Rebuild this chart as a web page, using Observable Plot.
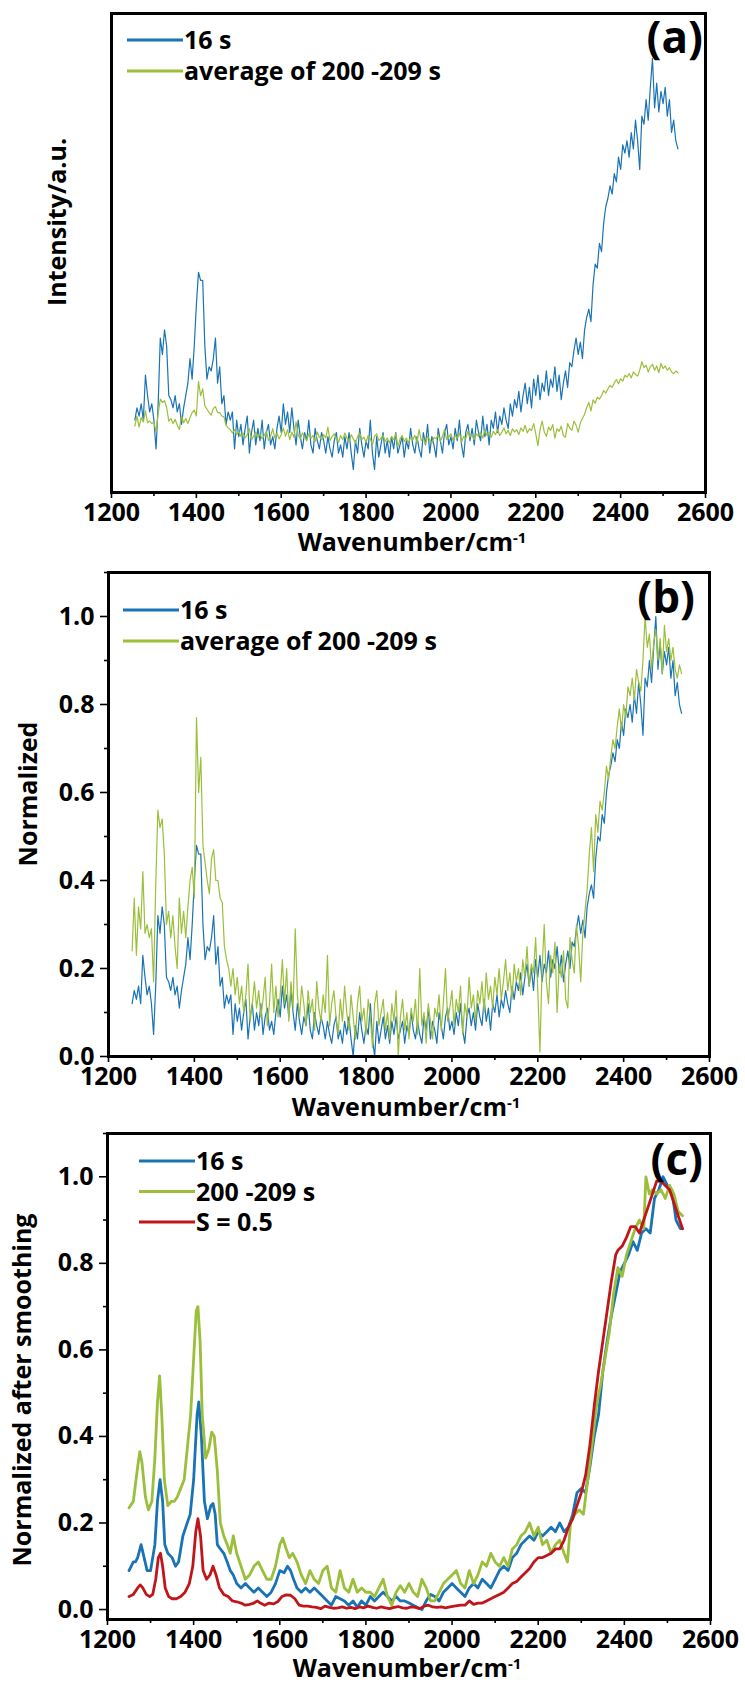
<!DOCTYPE html>
<html><head><meta charset="utf-8">
<script src="https://cdn.jsdelivr.net/npm/d3@7"></script>
<script src="https://cdn.jsdelivr.net/npm/@observablehq/plot@0.6"></script>
<style>
body{margin:0;background:#fff;}
#chart{width:745px;}
#chart svg{display:block;overflow:visible;}
</style></head><body><div id="chart"></div>
<script>
// Raman wavenumber grid (cm-1) of the measured spectra
const wavenumber = [
1255,1260,1265,1270,1275,1280,1285,1290,1295,1300,1305,1310,1315,1320,1325,1330,1335,1340,1345,1350,
1355,1360,1365,1370,1375,1380,1385,1390,1395,1400,1405,1410,1415,1420,1425,1430,1435,1440,1445,1450,
1455,1460,1465,1470,1475,1480,1485,1490,1495,1500,1505,1510,1515,1520,1525,1530,1535,1540,1545,1550,
1555,1560,1565,1570,1575,1580,1585,1590,1595,1600,1605,1610,1615,1620,1625,1630,1635,1640,1645,1650,
1655,1660,1665,1670,1675,1680,1685,1690,1695,1700,1705,1710,1715,1720,1725,1730,1735,1740,1745,1750,
1755,1760,1765,1770,1775,1780,1785,1790,1795,1800,1805,1810,1815,1820,1825,1830,1835,1840,1845,1850,
1855,1860,1865,1870,1875,1880,1885,1890,1895,1900,1905,1910,1915,1920,1925,1930,1935,1940,1945,1950,
1955,1960,1965,1970,1975,1980,1985,1990,1995,2000,2005,2010,2015,2020,2025,2030,2035,2040,2045,2050,
2055,2060,2065,2070,2075,2080,2085,2090,2095,2100,2105,2110,2115,2120,2125,2130,2135,2140,2145,2150,
2155,2160,2165,2170,2175,2180,2185,2190,2195,2200,2205,2210,2215,2220,2225,2230,2235,2240,2245,2250,
2255,2260,2265,2270,2275,2280,2285,2290,2295,2300,2305,2310,2315,2320,2325,2330,2335,2340,2345,2350,
2355,2360,2365,2370,2375,2380,2385,2390,2395,2400,2405,2410,2415,2420,2425,2430,2435,2440,2445,2450,
2455,2460,2465,2470,2475,2480,2485,2490,2495,2500,2505,2510,2515,2520,2525,2530,2535];

// 16 s spectrum, normalized (panel b)
const norm16 = [
.12,.15,.13,.16,.12,.23,.18,.14,.16,.12,.05,.16,.32,.28,.34,.30,.18,.17,.15,.18,
.14,.16,.11,.15,.18,.21,.27,.22,.30,.40,.48,.46,.46,.30,.22,.25,.24,.27,.32,.21,
.25,.16,.18,.11,.14,.12,.14,.05,.12,.08,.11,.06,.10,.13,.04,.09,.12,.06,.10,.07,
.12,.05,.09,.11,.06,.08,.05,.10,.13,.09,.16,.11,.14,.09,.15,.10,.06,.12,.08,.05,
.09,.07,.12,.06,.04,.10,.07,.05,.09,.07,.04,.08,.05,.03,.07,.09,.04,.06,.03,.08,
.05,.09,.04,.00,.07,.04,.10,.06,.03,.07,.05,.12,.04,.00,.08,.03,.06,.09,.04,.07,
.03,.08,.05,.09,.04,.06,.08,.03,.07,.05,.10,.06,.04,.08,.05,.03,.09,.06,.11,.04,
.08,.06,.03,.10,.07,.04,.09,.11,.06,.08,.05,.10,.07,.12,.06,.03,.09,.11,.07,.10,
.06,.12,.09,.07,.13,.08,.11,.06,.12,.10,.14,.09,.13,.11,.15,.12,.10,.16,.13,.17,
.15,.19,.14,.18,.21,.16,.20,.15,.22,.18,.23,.17,.21,.19,.24,.18,.22,.20,.25,.19,
.23,.17,.21,.24,.20,.26,.25,.29,.32,.28,.31,.27,.34,.37,.39,.36,.45,.50,.49,.55,
.53,.60,.64,.66,.69,.67,.72,.70,.76,.73,.79,.77,.80,.76,.82,.78,.85,.80,.73,.86,
.84,.90,.85,.93,1.00,.88,.94,.87,.92,.89,.93,.86,.90,.82,.85,.80,.78];

// average of 200-209 s, normalized (panel b)
const norm200 = [
.24,.36,.23,.34,.29,.42,.28,.30,.27,.29,.17,.39,.56,.52,.54,.46,.30,.33,.27,.32,
.25,.20,.36,.28,.33,.27,.34,.40,.43,.36,.77,.60,.68,.48,.44,.40,.37,.45,.47,.40,
.40,.36,.35,.25,.22,.20,.16,.20,.14,.18,.12,.16,.10,.14,.21,.08,.12,.17,.11,.15,
.09,.13,.18,.07,.12,.21,.10,.16,.09,.14,.22,.12,.20,.08,.17,.11,.29,.14,.09,.16,
.12,.07,.15,.10,.13,.06,.17,.11,.08,.14,.10,.23,.07,.12,.15,.09,.05,.13,.08,.16,
.10,.06,.14,.09,.04,.12,.16,.08,.11,.05,.13,.09,.02,.12,.15,.07,.10,.13,.06,.10,
.04,.12,.08,.15,.00,.09,.13,.06,.10,.04,.11,.08,.13,.05,.20,.07,.10,.03,.12,.08,
.04,.11,.09,.14,.06,.12,.20,.08,.11,.15,.07,.13,.10,.16,.05,.12,.09,.18,.11,.14,
.08,.15,.12,.17,.10,.19,.13,.16,.11,.18,.14,.20,.13,.17,.22,.15,.19,.13,.21,.17,
.20,.14,.22,.18,.25,.16,.21,.19,.27,.15,.01,.20,.30,.17,.12,.23,.19,.26,.10,.21,
.18,.24,.13,.11,.27,.22,.19,.30,.25,.17,.28,.33,.38,.46,.52,.42,.55,.51,.58,.56,
.60,.66,.63,.68,.72,.70,.75,.79,.74,.80,.77,.84,.82,.86,.81,.88,.85,.83,.90,1.00,
.93,.96,.88,.94,.97,.90,.95,.87,.98,.92,.95,.90,.93,.88,.86,.89,.87];

// raw intensity (a.u.) of each spectrum at its minimum and maximum
const intensityRange16 = [0.048, 0.906];
const intensityRange200 = [0.096, 0.273];

// smoothed spectra, panel (c): [wavenumber, normalized value]
const smooth16 = [[1250,.09],[1260,.11],[1265,.11],[1270,.12],[1278,.15],[1285,.12],[1292,.09],[1300,.09],[1310,.15],[1316,.25],[1322,.30],[1328,.25],[1333,.15],[1340,.13],[1350,.12],[1358,.10],[1365,.11],[1375,.17],[1385,.20],[1392,.22],[1400,.30],[1408,.45],[1412,.48],[1418,.40],[1425,.25],[1432,.21],[1440,.24],[1445,.245],[1450,.22],[1455,.15],[1462,.14],[1470,.13],[1478,.11],[1485,.09],[1492,.08],[1500,.06],[1510,.05],[1520,.06],[1530,.05],[1540,.04],[1550,.05],[1560,.04],[1570,.03],[1580,.04],[1590,.06],[1600,.09],[1610,.085],[1618,.10],[1625,.09],[1632,.07],[1640,.05],[1650,.04],[1660,.05],[1670,.04],[1680,.05],[1690,.04],[1700,.03],[1710,.02],[1720,.01],[1730,.03],[1740,.025],[1750,.02],[1760,.01],[1770,.02],[1780,.005],[1790,.02],[1800,.01],[1810,.03],[1820,.02],[1830,.03],[1840,.04],[1850,.03],[1860,.02],[1870,.03],[1880,.02],[1890,.02],[1900,.015],[1910,.01],[1920,.005],[1930,.0],[1940,.02],[1950,.035],[1960,.03],[1970,.02],[1980,.04],[1990,.05],[2000,.06],[2010,.05],[2020,.04],[2030,.03],[2040,.05],[2050,.06],[2060,.05],[2070,.07],[2080,.06],[2090,.05],[2100,.07],[2110,.09],[2120,.10],[2130,.09],[2140,.12],[2150,.13],[2160,.15],[2170,.16],[2180,.17],[2190,.16],[2200,.18],[2210,.17],[2220,.18],[2230,.19],[2240,.18],[2250,.20],[2260,.18],[2270,.19],[2280,.22],[2290,.27],[2300,.28],[2310,.27],[2320,.33],[2330,.40],[2340,.45],[2350,.55],[2360,.62],[2370,.68],[2380,.73],[2390,.78],[2400,.80],[2410,.82],[2420,.85],[2430,.83],[2440,.87],[2450,.88],[2460,.87],[2470,.95],[2480,.97],[2490,1.0],[2500,.98],[2510,.97],[2520,.90],[2530,.88],[2535,.88]];

const smooth200 = [[1250,.235],[1260,.25],[1270,.33],[1275,.365],[1280,.34],[1288,.26],[1295,.23],[1303,.25],[1310,.35],[1316,.48],[1321,.54],[1326,.45],[1332,.30],[1340,.24],[1348,.25],[1355,.25],[1362,.26],[1370,.28],[1378,.30],[1386,.38],[1393,.45],[1400,.58],[1406,.69],[1410,.70],[1415,.62],[1420,.45],[1428,.35],[1435,.37],[1442,.41],[1448,.40],[1455,.32],[1462,.20],[1470,.17],[1478,.15],[1485,.13],[1492,.17],[1500,.13],[1510,.10],[1520,.07],[1530,.08],[1540,.10],[1550,.11],[1560,.09],[1570,.07],[1580,.07],[1590,.10],[1600,.15],[1607,.165],[1615,.14],[1622,.12],[1630,.13],[1640,.11],[1650,.08],[1660,.06],[1670,.09],[1680,.07],[1690,.06],[1700,.09],[1710,.10],[1720,.05],[1730,.04],[1740,.09],[1750,.05],[1760,.04],[1770,.07],[1780,.04],[1790,.05],[1800,.04],[1810,.04],[1820,.03],[1830,.05],[1840,.07],[1850,.03],[1860,.01],[1870,.04],[1880,.055],[1890,.04],[1900,.06],[1910,.04],[1920,.03],[1930,.07],[1940,.05],[1950,.02],[1960,.02],[1970,.04],[1980,.06],[1990,.07],[2000,.08],[2010,.09],[2020,.06],[2030,.05],[2040,.09],[2050,.06],[2060,.08],[2070,.11],[2080,.10],[2090,.13],[2100,.11],[2110,.10],[2120,.12],[2130,.10],[2140,.14],[2150,.15],[2160,.17],[2170,.18],[2180,.20],[2190,.17],[2200,.19],[2210,.15],[2220,.16],[2230,.13],[2240,.15],[2250,.16],[2260,.13],[2268,.11],[2275,.20],[2285,.22],[2295,.23],[2305,.22],[2315,.30],[2325,.38],[2335,.47],[2345,.52],[2355,.58],[2365,.64],[2375,.73],[2385,.79],[2395,.77],[2405,.82],[2415,.85],[2425,.88],[2435,.90],[2445,.88],[2450,1.0],[2458,.96],[2465,.97],[2475,.96],[2485,.97],[2495,.95],[2505,.98],[2515,.96],[2525,.92],[2535,.91]];

const smoothS05 = [[1250,.03],[1260,.035],[1270,.05],[1276,.057],[1282,.05],[1290,.035],[1298,.03],[1305,.035],[1312,.07],[1318,.12],[1323,.13],[1328,.10],[1334,.05],[1342,.03],[1350,.025],[1360,.025],[1370,.03],[1380,.04],[1390,.06],[1398,.10],[1405,.18],[1410,.21],[1416,.17],[1422,.09],[1430,.07],[1438,.08],[1445,.10],[1452,.08],[1460,.05],[1470,.035],[1480,.03],[1490,.02],[1500,.018],[1510,.015],[1520,.01],[1530,.012],[1540,.015],[1548,.02],[1555,.015],[1565,.01],[1575,.015],[1585,.013],[1595,.018],[1605,.03],[1615,.034],[1625,.033],[1635,.025],[1645,.01],[1655,.008],[1665,.008],[1675,.006],[1685,.005],[1695,.002],[1705,.008],[1715,.005],[1725,.003],[1735,.004],[1745,.006],[1755,.003],[1765,.005],[1775,.002],[1785,.006],[1795,.004],[1805,.008],[1815,.005],[1825,.003],[1835,.006],[1845,.004],[1855,.002],[1865,.005],[1875,.007],[1885,.004],[1895,.003],[1905,.006],[1915,.005],[1925,.002],[1935,.008],[1945,.01],[1955,.006],[1965,.005],[1975,.006],[1985,.004],[1995,.006],[2005,.008],[2020,.01],[2030,.01],[2040,.02],[2050,.012],[2060,.015],[2070,.015],[2080,.02],[2090,.025],[2100,.03],[2110,.035],[2120,.04],[2130,.05],[2140,.06],[2150,.065],[2160,.075],[2170,.085],[2180,.095],[2190,.11],[2200,.12],[2210,.12],[2220,.125],[2230,.13],[2240,.14],[2250,.14],[2260,.16],[2270,.19],[2280,.21],[2290,.24],[2300,.27],[2310,.31],[2320,.38],[2330,.47],[2340,.55],[2350,.62],[2360,.69],[2370,.76],[2380,.82],[2385,.83],[2395,.84],[2405,.86],[2415,.885],[2425,.885],[2435,.87],[2445,.90],[2455,.93],[2465,.96],[2475,.99],[2485,.99],[2495,.98],[2505,.97],[2515,.94],[2525,.91],[2535,.88]];

// ticks
const xTicks = [1200,1400,1600,1800,2000,2200,2400,2600];
const xMinorTicks = [1300,1500,1700,1900,2100,2300,2500];
const yTicks = [0,0.2,0.4,0.6,0.8,1.0];
const yMinorTicks = [0.1,0.3,0.5,0.7,0.9,1.1];

const COLORS = {s16: "#1a73b4", s200: "#9bbf3a", s05: "#c0161a"};
const FONT = "'Open Sans', 'Noto Sans', sans-serif";

// tables
const spectra = wavenumber.map((w, i) => ({
  w,
  n16: norm16[i],
  n200: norm200[i],
  a16: intensityRange16[0] + norm16[i] * (intensityRange16[1] - intensityRange16[0]),
  a200: intensityRange200[0] + norm200[i] * (intensityRange200[1] - intensityRange200[0])
}));
const toRows = arr => arr.map(([w, v]) => ({w, v}));

const chart = document.getElementById("chart");

function xAxes() {
  return [
    Plot.axisX(xTicks, {tickSize: 6, tickPadding: 5, fontSize: 25, fontWeight: 700, strokeWidth: 1.6, tickFormat: d => String(d), label: null}),
    Plot.axisX(xMinorTicks, {tickSize: 4, strokeWidth: 1.6, tickFormat: () => "", label: null})
  ];
}
function yAxes() {
  return [
    Plot.axisY(yTicks, {tickSize: 8, tickPadding: 6, fontSize: 25, fontWeight: 700, strokeWidth: 1.6, tickFormat: d => d.toFixed(1), label: null}),
    Plot.axisY(yMinorTicks, {tickSize: 4, strokeWidth: 1.6, tickFormat: () => "", label: null})
  ];
}

function addText(svg, {x, y, text, size = 25, anchor = "middle", rotate = 0, sup = null}) {
  const t = d3.select(svg).append("text")
    .attr("font-family", FONT).attr("font-weight", 700).attr("font-size", size)
    .attr("fill", "#000").attr("text-anchor", anchor)
    .attr("transform", `translate(${x},${y}) rotate(${rotate})`);
  t.append("tspan").text(text);
  if (sup) t.append("tspan").attr("font-size", size * 0.6).attr("dy", -size * 0.34).text(sup);
  return t;
}
function addLegend(svg, x0, y0, gap, items) {
  const g = d3.select(svg).append("g");
  items.forEach(([label, color], i) => {
    const y = y0 + i * gap;
    g.append("line").attr("x1", x0).attr("x2", x0 + 56).attr("y1", y).attr("y2", y)
      .attr("stroke", color).attr("stroke-width", 3);
    g.append("text").attr("x", x0 + 57).attr("y", y + 9).attr("text-anchor", "start")
      .attr("font-family", FONT).attr("font-weight", 700).attr("font-size", 25).attr("fill", "#000")
      .text(label);
  });
}

// ---------- panel (a) ----------
const W = 745;
const svgA = Plot.plot({
  width: W, height: 556, marginTop: 13, marginBottom: 64, marginLeft: 111, marginRight: 40,
  style: {fontFamily: FONT, background: "#fff", overflow: "visible"},
  x: {domain: [1200, 2600]},
  y: {domain: [0, 1], axis: null},
  marks: [
    Plot.line(spectra, {x: "w", y: "a16", stroke: COLORS.s16, strokeWidth: 1.2}),
    Plot.line(spectra, {x: "w", y: "a200", stroke: COLORS.s200, strokeWidth: 1.2}),
    ...xAxes(),
    Plot.frame({strokeWidth: 3})
  ]
});
chart.appendChild(svgA);
addText(svgA, {x: 412, y: 551, text: "Wavenumber/cm", sup: "-1"});
addText(svgA, {x: 66, y: 222, text: "Intensity/a.u.", rotate: -90});
addText(svgA, {x: 703, y: 53, text: "(a)", size: 44, anchor: "end"});
addLegend(svgA, 127, 40, 31, [["16 s", COLORS.s16], ["average of 200 -209 s", COLORS.s200]]);

// ---------- panel (b) ----------
const svgB = Plot.plot({
  width: W, height: 569, marginTop: 16, marginBottom: 69, marginLeft: 108, marginRight: 36,
  style: {fontFamily: FONT, background: "#fff", overflow: "visible"},
  x: {domain: [1200, 2600]},
  y: {domain: [0, 1.1]},
  marks: [
    Plot.line(spectra, {x: "w", y: "n16", stroke: COLORS.s16, strokeWidth: 1.2}),
    Plot.line(spectra, {x: "w", y: "n200", stroke: COLORS.s200, strokeWidth: 1.2}),
    ...xAxes(), ...yAxes(),
    Plot.frame({strokeWidth: 3})
  ]
});
chart.appendChild(svgB);
addText(svgB, {x: 406, y: 560, text: "Wavenumber/cm", sup: "-1"});
addText(svgB, {x: 37, y: 238, text: "Normalized", rotate: -90});
addText(svgB, {x: 695, y: 57, text: "(b)", size: 44, anchor: "end"});
addLegend(svgB, 123, 54, 31, [["16 s", COLORS.s16], ["average of 200 -209 s", COLORS.s200]]);

// ---------- panel (c) ----------
const svgC = Plot.plot({
  width: W, height: 558, marginTop: 8, marginBottom: 64, marginLeft: 107, marginRight: 35,
  style: {fontFamily: FONT, background: "#fff", overflow: "visible"},
  x: {domain: [1200, 2600]},
  y: {domain: [-0.023, 1.1]},
  marks: [
    Plot.line(toRows(smooth16), {x: "w", y: "v", stroke: COLORS.s16, strokeWidth: 2.8}),
    Plot.line(toRows(smooth200), {x: "w", y: "v", stroke: COLORS.s200, strokeWidth: 2.8}),
    Plot.line(toRows(smoothS05), {x: "w", y: "v", stroke: COLORS.s05, strokeWidth: 2.8}),
    ...xAxes(), ...yAxes(),
    Plot.frame({strokeWidth: 3})
  ]
});
chart.appendChild(svgC);
addText(svgC, {x: 407, y: 552, text: "Wavenumber/cm", sup: "-1"});
addText(svgC, {x: 31, y: 265, text: "Normalized after smoothing", rotate: -90});
addText(svgC, {x: 703, y: 50, text: "(c)", size: 44, anchor: "end"});
addLegend(svgC, 139, 36, 30.5, [["16 s", COLORS.s16], ["200 -209 s", COLORS.s200], ["S = 0.5", COLORS.s05]]);
</script>
</body></html>
